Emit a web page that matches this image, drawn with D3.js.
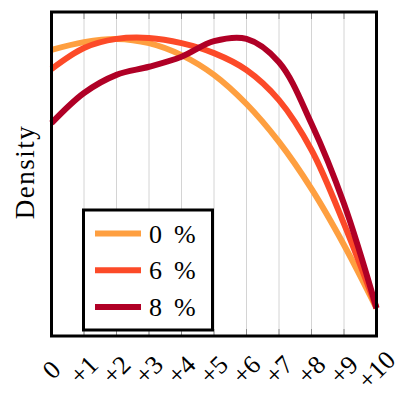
<!DOCTYPE html>
<html>
<head>
<meta charset="utf-8">
<script src="https://cdn.jsdelivr.net/npm/d3@7"></script>
<style>
	body { margin: 0; background: #fff; }
	text { font-family: 'Liberation Serif', 'Times New Roman', serif; fill: #000; }
</style>
</head>
<body>
<div id="chart"></div>
<script>
// x positions 0..10, tick labels
const xValues = [0, 1, 2, 3, 4, 5, 6, 7, 8, 9, 10];
const tickLabels = ['0', '+1', '+2', '+3', '+4', '+5', '+6', '+7', '+8', '+9', '+10'];

// series names and colors
const seriesNames = ['0', '6', '8'];
const seriesColors = ['#fe9f40', '#fc4a28', '#b00026'];

// density values (relative units)
const density0 = [0.883, 0.907, 0.917, 0.904, 0.867, 0.806, 0.716, 0.599, 0.454, 0.281, 0.086];
const density6 = [0.824, 0.889, 0.917, 0.920, 0.904, 0.873, 0.821, 0.728, 0.574, 0.346, 0.086];
const density8 = [0.657, 0.750, 0.806, 0.831, 0.862, 0.910, 0.917, 0.845, 0.655, 0.408, 0.086];
const allSeries = [density0, density6, density8];

const width = 400;
const height = 397;
const margin = { left: 51.5, top: 12, right: 23.5, bottom: 61 };

const svg = d3
	.select('#chart')
	.append('svg')
	.attr('width', width)
	.attr('height', height);

const x = d3.scaleLinear().domain([0, 10]).range([margin.left, width - margin.right]);
const y = d3.scaleLinear().domain([0, 1]).range([height - margin.bottom, margin.top]);

// grid lines
svg.append('g')
	.selectAll('line')
	.data(xValues)
	.enter()
	.append('line')
	.attr('x1', (d) => x(d))
	.attr('x2', (d) => x(d))
	.attr('y1', y(1))
	.attr('y2', y(0))
	.style('stroke', '#d4d4d4')
	.style('stroke-width', 1);

// small tick marks top and bottom
[y(1), y(0)].forEach((yy, k) => {
	svg.append('g')
		.selectAll('line')
		.data(xValues)
		.enter()
		.append('line')
		.attr('x1', (d) => x(d))
		.attr('x2', (d) => x(d))
		.attr('y1', yy)
		.attr('y2', k === 0 ? yy + 7 : yy - 7)
		.style('stroke', '#8c8c8c')
		.style('stroke-width', 1);
});

// curves
const line = d3
	.line()
	.x((d, i) => x(xValues[i]))
	.y((d) => y(d))
	.curve(d3.curveCatmullRom.alpha(0.5));

svg.append('g')
	.selectAll('path')
	.data(allSeries)
	.enter()
	.append('path')
	.attr('d', line)
	.style('fill', 'none')
	.style('stroke', (d, i) => seriesColors[i])
	.style('stroke-width', 6);

// axes box
svg.append('rect')
	.attr('x', x(0))
	.attr('y', y(1))
	.attr('width', x(10) - x(0))
	.attr('height', y(0) - y(1))
	.style('fill', 'none')
	.style('stroke', '#000')
	.style('stroke-width', 3);

// x tick labels, rotated
svg.append('g')
	.selectAll('text')
	.data(xValues)
	.enter()
	.append('text')
	.attr('transform', (d) => 'translate(' + x(d) + ',370) rotate(-45)')
	.attr('text-anchor', 'middle')
	.attr('dominant-baseline', 'central')
	.style('font-size', '26px')
	.text((d, i) => tickLabels[i]);

// y label
svg.append('text')
	.attr('transform', 'translate(25,' + (y(0.5) - 2) + ') rotate(-90)')
	.attr('text-anchor', 'middle')
	.attr('dominant-baseline', 'central')
	.style('font-size', '27px')
	.style('letter-spacing', '1.5px')
	.text('Density');

// legend
const legend = svg.append('g');
legend.append('rect')
	.attr('x', 83.5)
	.attr('y', 210)
	.attr('width', 129)
	.attr('height', 120)
	.style('fill', '#fff')
	.style('stroke', '#000')
	.style('stroke-width', 3);

const entry = legend
	.selectAll('g.entry')
	.data(seriesNames)
	.enter()
	.append('g')
	.attr('class', 'entry')
	.attr('transform', (d, i) => 'translate(0,' + (233.5 + i * 36.7) + ')');

entry.append('line')
	.attr('x1', 95)
	.attr('x2', 141)
	.attr('y1', 0)
	.attr('y2', 0)
	.style('stroke', (d, i) => seriesColors[i])
	.style('stroke-width', 6);

const label = entry.append('text')
	.attr('y', 0)
	.attr('dominant-baseline', 'central')
	.style('font-size', '26px');
label.append('tspan').attr('x', 149).text((d) => d);
label.append('tspan').attr('x', 174).text('%');
</script>
</body>
</html>
